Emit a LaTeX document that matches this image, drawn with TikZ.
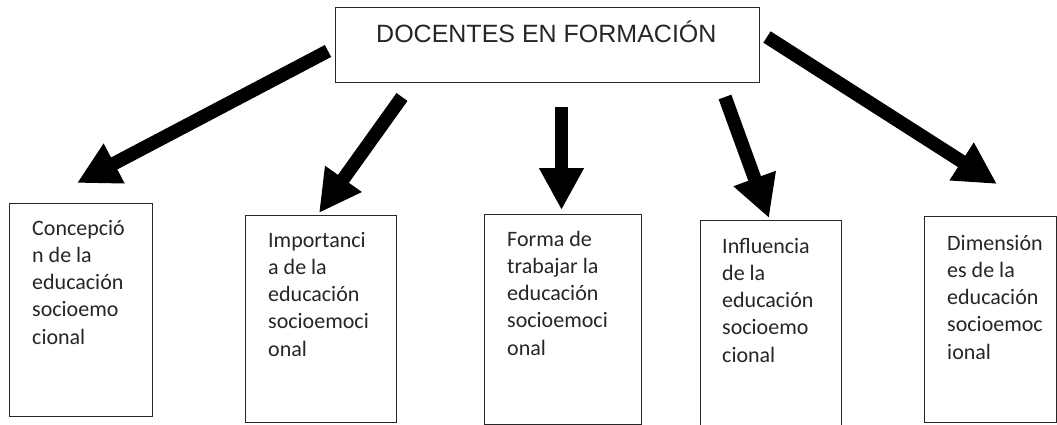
\documentclass[tikz,border=0pt]{standalone}
\usepackage{fontspec}
\setmainfont{Carlito}
\newfontfamily\arialf{Liberation Sans}
\usetikzlibrary{arrows.meta}
\begin{document}
\begin{tikzpicture}[x=1pt,y=-1pt,
  framebox/.style={draw=black!85, line width=1.3pt, anchor=north west, inner sep=0pt},
  boxtext/.style={anchor=base west, inner sep=0pt, text=black!85, font=\fontsize{22}{27.3}\selectfont},
  bigarrow/.style={line width=13.5pt, -{Triangle[length=42pt,width=42pt]}}]
\useasboundingbox (0,0) rectangle (1057,425);
\fill[white] (0,0) rectangle (1057,425);
% top node
\node[framebox, minimum width=424pt, minimum height=75pt] (top) at (335,7) {};
\node[anchor=base west, inner sep=0pt, text=black!85, font=\arialf\fontsize{25}{30}\selectfont] (title) at (376,43) {DOCENTES EN FORMACIÓN};
% boxes
\node[framebox, minimum width=143pt, minimum height=213pt] (b1) at (9,203) {};
\node[framebox, minimum width=151pt, minimum height=207pt] (b2) at (245,215) {};
\node[framebox, minimum width=157pt, minimum height=210pt] (b3) at (484,214) {};
\node[framebox, minimum width=141pt, minimum height=215pt] (b4) at (700,220) {};
\node[framebox, minimum width=132pt, minimum height=206pt] (b5) at (924,216) {};
% texts
\node[boxtext] (l1) at (32,235) {\parbox[t]{125pt}{\raggedright Concepció\\n de la\\educación\\socioemo\\cional}};
\node[boxtext] (l2) at (268,247) {\parbox[t]{125pt}{\raggedright Importanci\\a de la\\educación\\socioemoci\\onal}};
\node[boxtext] (l3) at (507,246) {\parbox[t]{125pt}{\raggedright Forma de\\trabajar la\\educación\\socioemoci\\onal}};
\node[boxtext] (l4) at (722,253) {\parbox[t]{125pt}{\raggedright Influencia\\de la\\educación\\socioemo\\cional}};
\node[boxtext] (l5) at (947,250) {\parbox[t]{125pt}{\raggedright Dimensión\\es de la\\educación\\socioemoc\\ional}};
% arrows
\coordinate (s1) at (328,51);  \coordinate (e1) at (77,183);
\coordinate (s2) at (402,97);  \coordinate (e2) at (319,213);
\coordinate (s3) at (561.5,107); \coordinate (e3) at (561.5,210);
\coordinate (s4) at (725,97);  \coordinate (e4) at (769,218);
\coordinate (s5) at (767,37);  \coordinate (e5) at (997,184);
\draw[bigarrow] (s1) -- (e1);
\draw[bigarrow] (s2) -- (e2);
\draw[bigarrow] (s3) -- (e3);
\draw[bigarrow] (s4) -- (e4);
\draw[bigarrow] (s5) -- (e5);
\end{tikzpicture}
\end{document}
